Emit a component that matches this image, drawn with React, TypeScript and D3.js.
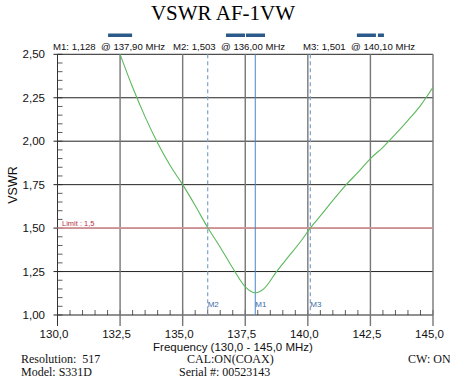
import * as d3 from "d3";
import React, { useEffect, useRef } from "react";

// VSWR trace (MHz, VSWR)
const freqs = [
  132.5, 133.0, 133.5, 134.0, 134.5, 135.0, 135.5, 136.0, 136.5, 137.0, 137.5,
  137.9, 138.25, 138.75, 139.25, 139.75, 140.1, 140.5, 141.0, 141.5, 142.0,
  142.5, 143.0, 143.5, 144.0, 144.5, 145.0,
];
const vswr = [
  2.5, 2.31, 2.14, 1.99, 1.86, 1.75, 1.63, 1.503, 1.39, 1.27, 1.162, 1.128,
  1.152, 1.25, 1.34, 1.43, 1.501, 1.57, 1.66, 1.745, 1.82, 1.9, 1.965, 2.04,
  2.12, 2.205, 2.31,
];

const xTicks = [130, 132.5, 135, 137.5, 140, 142.5, 145];
const yTicks = [1.0, 1.25, 1.5, 1.75, 2.0, 2.25, 2.5];

const markerNames = ["M1", "M2", "M3"];
const markerFreqs = [137.9, 136.0, 140.1];
const markerValues = ["1,128", "1,503", "1,501"];
const markerFreqText = ["137,90", "136,00", "140,10"];

const limitValue = 1.5;

// small bars above the header (MHz ranges)
const barStarts = [132.02, 136.73, 137.53, 141.96, 142.8];
const barEnds = [132.98, 137.49, 138.29, 142.72, 143.04];

const title = "VSWR AF-1VW";
const xLabel = "Frequency (130,0 - 145,0 MHz)";
const yLabel = "VSWR";

const fmt = (v: number, d: number) => v.toFixed(d).replace(".", ",");

const App = () => {
  const ref = useRef<SVGSVGElement>(null);
  const width = 450;
  const height = 391;
  const left = 57.5;
  const right = 433;
  const top = 54.3;
  const bottom = 315;

  useEffect(() => {
    const svg = d3.select(ref.current);
    svg.selectAll("*").remove();
    const sans = "Liberation Sans, Arial, sans-serif";
    const serif = "Liberation Serif, Times New Roman, serif";

    const x = d3.scaleLinear().domain([130, 145]).range([left, right]);
    const y = d3.scaleLinear().domain([1, 2.5]).range([bottom, top]);

    svg
      .append("defs")
      .append("clipPath")
      .attr("id", "plot")
      .append("rect")
      .attr("x", left)
      .attr("y", top)
      .attr("width", right - left)
      .attr("height", bottom - top);

    // title
    svg
      .append("text")
      .attr("x", 223)
      .attr("y", 20)
      .attr("text-anchor", "middle")
      .attr("font-family", serif)
      .attr("font-size", 21)
      .text(title);

    // bars above header
    svg
      .selectAll(".bar")
      .data(barStarts)
      .enter()
      .append("rect")
      .attr("x", (d) => x(d))
      .attr("y", 33.5)
      .attr("width", (d, i) => x(barEnds[i]) - x(d))
      .attr("height", 3.5)
      .attr("fill", "#2b5a8a");

    // marker header
    svg
      .selectAll(".mhead")
      .data(markerNames)
      .enter()
      .append("text")
      .attr("x", (d, i) => [53, 173, 303][i])
      .attr("y", 50)
      .attr("font-family", sans)
      .attr("font-size", 9.6)
      .attr("fill", "#111")
      .style("white-space", "pre")
      .text((d, i) => `${d}: ${markerValues[i]}  @ ${markerFreqText[i]} MHz`);

    // minor ticks
    const xMinor = d3.range(130, 145.01, 0.5);
    svg
      .append("g")
      .selectAll("line")
      .data(xMinor)
      .enter()
      .append("line")
      .attr("x1", (d) => x(d))
      .attr("x2", (d) => x(d))
      .attr("y1", bottom)
      .attr("y2", bottom - 5)
      .attr("stroke", "#333")
      .attr("stroke-width", 0.8);

    const yMinor = d3.range(1, 2.501, 0.05);
    svg
      .append("g")
      .selectAll("line")
      .data(yMinor)
      .enter()
      .append("line")
      .attr("x1", left)
      .attr("x2", left + 5)
      .attr("y1", (d) => y(d))
      .attr("y2", (d) => y(d))
      .attr("stroke", "#333")
      .attr("stroke-width", 0.8);

    // horizontal grid
    svg
      .append("g")
      .selectAll("line")
      .data(yTicks)
      .enter()
      .append("line")
      .attr("x1", left - 4)
      .attr("x2", right)
      .attr("y1", (d) => y(d))
      .attr("y2", (d) => y(d))
      .attr("stroke", "#222")
      .attr("stroke-width", 1);

    // vertical grid
    svg
      .append("g")
      .selectAll("line")
      .data(xTicks)
      .enter()
      .append("line")
      .attr("x1", (d) => x(d))
      .attr("x2", (d) => x(d))
      .attr("y1", top)
      .attr("y2", bottom + 11)
      .attr("stroke", (d) => (d === 130 ? "#333" : "#777"))
      .attr("stroke-width", (d) => (d === 130 ? 1 : 1.4));

    // y tick labels
    svg
      .append("g")
      .selectAll("text")
      .data(yTicks)
      .enter()
      .append("text")
      .attr("x", 45)
      .attr("y", (d) => y(d))
      .attr("dy", "0.36em")
      .attr("text-anchor", "end")
      .attr("font-family", sans)
      .attr("font-size", 11.5)
      .attr("fill", "#111")
      .text((d) => fmt(d, 2));

    // x tick labels
    svg
      .append("g")
      .selectAll("text")
      .data(xTicks)
      .enter()
      .append("text")
      .attr("x", (d) => x(d) - 3.5)
      .attr("y", 338)
      .attr("text-anchor", "middle")
      .attr("font-family", sans)
      .attr("font-size", 11.5)
      .attr("fill", "#111")
      .text((d) => fmt(d, 1));

    svg
      .append("text")
      .attr("x", 233)
      .attr("y", 351)
      .attr("text-anchor", "middle")
      .attr("font-family", sans)
      .attr("font-size", 11.5)
      .attr("fill", "#111")
      .text(xLabel);

    svg
      .append("text")
      .attr("transform", `translate(17,185) rotate(-90)`)
      .attr("text-anchor", "middle")
      .attr("font-family", sans)
      .attr("font-size", 12.5)
      .attr("fill", "#111")
      .text(yLabel);

    // limit line
    svg
      .append("line")
      .attr("x1", left)
      .attr("x2", right)
      .attr("y1", y(limitValue))
      .attr("y2", y(limitValue))
      .attr("stroke", "#e39a9e")
      .attr("stroke-width", 1.5);
    svg
      .append("text")
      .attr("x", 62)
      .attr("y", 226)
      .attr("font-family", sans)
      .attr("font-size", 7.5)
      .attr("fill", "#b8344a")
      .text(`Limit : ${fmt(limitValue, 1)}`);

    // markers
    markerFreqs.forEach((f, i) => {
      svg
        .append("line")
        .attr("x1", x(f))
        .attr("x2", x(f))
        .attr("y1", top)
        .attr("y2", bottom)
        .attr("stroke", i === 0 ? "#4a86c4" : "#7ea3cc")
        .attr("stroke-width", i === 0 ? 1 : 1.2)
        .attr("stroke-dasharray", i === 0 ? null : "4,3");
      svg
        .append("text")
        .attr("x", x(f))
        .attr("y", 306.5)
        .attr("font-family", sans)
        .attr("font-size", 8)
        .attr("fill", "#3b6ea6")
        .text(markerNames[i]);
    });

    // trace
    const line = d3
      .line<number>()
      .x((d) => x(d))
      .y((d, i) => y(vswr[i]))
      .curve(d3.curveMonotoneX);
    svg
      .append("path")
      .attr("clip-path", "url(#plot)")
      .attr("d", line(freqs))
      .attr("fill", "none")
      .attr("stroke", "#5cb85c")
      .attr("stroke-width", 1.1);

    // footer
    const foot = [
      { t: "Resolution:  517", x: 21, y: 363 },
      { t: "Model: S331D", x: 21, y: 376 },
      { t: "CAL:ON(COAX)", x: 187, y: 363 },
      { t: "Serial #: 00523143", x: 179, y: 376 },
      { t: "CW: ON", x: 408, y: 363 },
    ];
    svg
      .append("g")
      .selectAll("text")
      .data(foot)
      .enter()
      .append("text")
      .attr("x", (d) => d.x)
      .attr("y", (d) => d.y)
      .attr("font-family", serif)
      .attr("font-size", 12)
      .attr("fill", "#111")
      .style("white-space", "pre")
      .text((d) => d.t);
  }, []);

  return (
    <svg
      ref={ref}
      width={width}
      height={height}
      style={{ position: "absolute", left: 0, top: 0, background: "#fff" }}
    ></svg>
  );
};

export default App;
